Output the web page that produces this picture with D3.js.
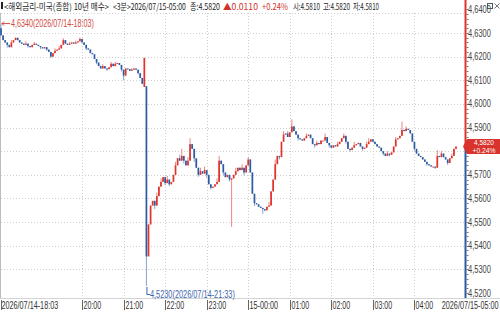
<!DOCTYPE html>
<html>
<head>
<meta charset="utf-8">
<title>해외금리-미국 10년 3분</title>
<script src="https://cdn.jsdelivr.net/npm/d3@7"></script>
<style>
  body { margin: 0; background: #fff; }
  svg { display: block; font-family: "Noto Sans CJK KR", "Noto Sans", sans-serif; }
  .num { font-family: "Liberation Sans", "DejaVu Sans", sans-serif; }
</style>
</head>
<body>
<script>
// 3분봉 종가 : 2026/07/14-18:03 ~ 2026/07/15-05:00 (220개)
var closes = [
  4.629, 4.627, 4.626, 4.625, 4.624, 4.626, 4.627, 4.628, 4.627, 4.626,
  4.6255, 4.625, 4.6255, 4.6245, 4.624, 4.625, 4.6255, 4.625, 4.6245, 4.624,
  4.6235, 4.624, 4.623, 4.622, 4.620, 4.6215, 4.6225, 4.623, 4.6235, 4.625,
  4.627, 4.6255, 4.625, 4.6255, 4.626, 4.6255, 4.626, 4.6265, 4.6275, 4.626,
  4.625, 4.6235, 4.623, 4.6215, 4.621, 4.619, 4.6175, 4.616, 4.615, 4.616,
  4.615, 4.6147, 4.6155, 4.617, 4.616, 4.617, 4.6173, 4.6165, 4.6145, 4.612,
  4.615, 4.6147, 4.614, 4.6145, 4.615, 4.6145, 4.613, 4.611, 4.6085, 4.6195,
  4.5355, 4.549, 4.557, 4.559, 4.557, 4.561, 4.565, 4.567, 4.569, 4.5665,
  4.568, 4.566, 4.567, 4.570, 4.574, 4.577, 4.576, 4.578, 4.576, 4.574,
  4.576, 4.583, 4.581, 4.577, 4.573, 4.570, 4.5715, 4.5705, 4.572, 4.570,
  4.566, 4.5645, 4.565, 4.566, 4.567, 4.576, 4.5745, 4.571, 4.569, 4.570,
  4.568, 4.5685, 4.570, 4.5715, 4.573, 4.572, 4.573, 4.571, 4.574, 4.5765,
  4.571, 4.562, 4.558, 4.5575, 4.5565, 4.556, 4.5555, 4.555, 4.5565, 4.557,
  4.563, 4.568, 4.5745, 4.578, 4.5775, 4.584, 4.587, 4.5875, 4.586, 4.588,
  4.5905, 4.5885, 4.587, 4.5855, 4.585, 4.5845, 4.5855, 4.5865, 4.587, 4.5855,
  4.583, 4.5825, 4.5835, 4.583, 4.5845, 4.5845, 4.586, 4.5835, 4.5825, 4.5815,
  4.5825, 4.582, 4.583, 4.584, 4.5855, 4.5865, 4.584, 4.581, 4.5805, 4.5815,
  4.5825, 4.583, 4.5835, 4.582, 4.581, 4.5815, 4.583, 4.584, 4.585, 4.584,
  4.583, 4.582, 4.5815, 4.580, 4.579, 4.578, 4.579, 4.5785, 4.5795, 4.582,
  4.585, 4.5855, 4.5865, 4.589, 4.5885, 4.5895, 4.589, 4.5875, 4.584, 4.581,
  4.579, 4.578, 4.5775, 4.5765, 4.5755, 4.5745, 4.574, 4.5735, 4.5735, 4.573,
  4.578, 4.5775, 4.579, 4.5775, 4.5765, 4.575, 4.577, 4.578, 4.581, 4.582
];
// 시가가 직전 종가와 다른 봉 [index, open]
var openGaps = [[0, 4.632], [69, 4.6072], [70, 4.6075], [219, 4.581]];
// 꼬리 [index, high] / [index, low]
var highWicks = [[0, 4.634], [5, 4.627], [12, 4.6265], [16, 4.6262], [26, 4.6235], [28, 4.6245],
  [30, 4.6278], [33, 4.6262], [36, 4.6268], [38, 4.6282], [49, 4.6168], [53, 4.6178], [55, 4.6178],
  [63, 4.6152], [75, 4.5625], [77, 4.5685], [80, 4.5695], [84, 4.5755], [86, 4.5785], [87, 4.581],
  [90, 4.5775], [91, 4.5855], [96, 4.573], [98, 4.5735], [104, 4.5685], [105, 4.578], [108, 4.5705],
  [113, 4.573], [116, 4.5745], [119, 4.5775], [129, 4.5585], [132, 4.5765], [136, 4.5885],
  [138, 4.5885], [140, 4.5935], [147, 4.5875], [152, 4.5845], [156, 4.5875], [162, 4.584],
  [165, 4.5875], [170, 4.584], [176, 4.584], [177, 4.5855], [186, 4.580], [190, 4.586],
  [193, 4.5925], [195, 4.5905], [210, 4.5805], [212, 4.580], [217, 4.579]];
var lowWicks = [[3, 4.6238], [13, 4.6238], [19, 4.6232], [22, 4.6225], [24, 4.6195], [41, 4.6228],
  [46, 4.6168], [51, 4.614], [58, 4.6138], [59, 4.610], [66, 4.6125], [70, 4.523], [71, 4.5355],
  [74, 4.5555], [79, 4.5655], [81, 4.5652], [88, 4.5748], [93, 4.5755], [95, 4.5692], [99, 4.5688],
  [101, 4.5638], [107, 4.5698], [110, 4.5672], [111, 4.548], [117, 4.5698], [122, 4.5568],
  [126, 4.5535], [127, 4.5545], [134, 4.5765], [143, 4.5845], [151, 4.5815], [158, 4.5815],
  [166, 4.5832], [168, 4.5798], [174, 4.5802], [184, 4.5782], [187, 4.5778], [199, 4.5802],
  [205, 4.5738], [209, 4.5725], [215, 4.5742]];

var yTicks = [4.52, 4.53, 4.54, 4.55, 4.56, 4.57, 4.58, 4.59, 4.60, 4.61, 4.62, 4.63, 4.64];
var xTickLabels = ["2026/07/14-18:03", "20:00", "21:00", "22:00", "23:00", "15-00:00",
  "01:00", "02:00", "03:00", "04:00", "2026/07/15-05:00"];

var width = 500, height = 314;
var red = "#e0332c", blue = "#2d5ba3";
var fmt = function(v) { return d3.format(".4f")(v).replace(".", ","); };

// 좁은 글꼴 흉내: 글자를 가로로 줄여 폭 w에 맞춘다
function fitText(sel, str, x, y, w, opt) {
  opt = opt || {};
  var t = sel.append("text")
    .attr("class", opt.cls || null)
    .attr("font-size", opt.size || 10)
    .attr("fill", opt.fill || "#333")
    .attr("text-anchor", opt.anchor || "start")
    .text(str);
  var k = w / t.node().getComputedTextLength();
  t.attr("transform", "translate(" + x + "," + y + ") scale(" + k + ",1)");
  return t;
}

var t0 = new Date(2026, 6, 14, 18, 3);
var bars = closes.map(function(c, i) {
  return { t: d3.timeMinute.offset(t0, i * 3), c: c };
});
var gapMap = new Map(openGaps), hiMap = new Map(highWicks), loMap = new Map(lowWicks);
bars.forEach(function(b, i) {
  b.o = gapMap.has(i) ? gapMap.get(i) : (i > 0 ? bars[i - 1].c : b.c);
  b.h = Math.max(b.o, b.c, hiMap.get(i) || 0);
  b.l = Math.min(b.o, b.c, loMap.get(i) || 99);
});

var x = d3.scaleTime()
  .domain([t0, bars[bars.length - 1].t])
  .range([1, 456]);
var y = d3.scaleLinear().domain([4.52, 4.64]).range([293, 9.4]);

var svg = d3.select("body").append("svg")
  .attr("width", width).attr("height", height);

var plotTop = 13, plotBottom = 298, axisX = 465.5;

// 격자
var hourTicks = [t0].concat(d3.timeHour.range(new Date(2026, 6, 14, 20), new Date(2026, 6, 15, 5, 1)));
svg.append("g").selectAll("line").data(yTicks.slice(1, -1)).enter().append("line")
  .attr("x1", 1).attr("x2", axisX - 1)
  .attr("y1", function(d) { return Math.round(y(d)) + 0.5; })
  .attr("y2", function(d) { return Math.round(y(d)) + 0.5; })
  .attr("stroke", "#cfcfcf").attr("stroke-dasharray", "1,2");
svg.append("g").selectAll("line").data(hourTicks.slice(1, -1)).enter().append("line")
  .attr("x1", function(d) { return Math.round(x(d)) + 0.5; })
  .attr("x2", function(d) { return Math.round(x(d)) + 0.5; })
  .attr("y1", plotTop).attr("y2", plotBottom)
  .attr("stroke", "#cfcfcf").attr("stroke-dasharray", "1,2");
svg.append("line").attr("x1", 1).attr("x2", axisX).attr("y1", plotTop + 0.5).attr("y2", plotTop + 0.5)
  .attr("stroke", "#cfcfcf").attr("stroke-dasharray", "1,2");
svg.append("line").attr("x1", 0.5).attr("x2", 0.5).attr("y1", plotTop).attr("y2", plotBottom)
  .attr("stroke", "#bdbdbd");
svg.append("line").attr("x1", 0).attr("x2", width).attr("y1", plotBottom + 0.5).attr("y2", plotBottom + 0.5)
  .attr("stroke", "#d4d4d4");

// 캔들
var candles = svg.append("g").selectAll("g").data(bars).enter().append("g");
candles.append("line")
  .attr("x1", function(d) { return x(d.t); })
  .attr("x2", function(d) { return x(d.t); })
  .attr("y1", function(d) { return y(d.h); })
  .attr("y2", function(d) { return y(d.l); })
  .attr("stroke", function(d) { return d.c >= d.o ? "#e8867f" : "#8aa3cc"; })
  .attr("stroke-width", 1);
candles.append("rect")
  .attr("x", function(d) { return x(d.t) - 0.85; })
  .attr("width", 1.7)
  .attr("y", function(d) { return y(Math.max(d.o, d.c)); })
  .attr("height", function(d) { return Math.max(1, Math.abs(y(d.o) - y(d.c))); })
  .attr("fill", function(d) { return d.c >= d.o ? red : blue; });

// 최고/최저 표시
var hiBar = bars[0], loBar = bars[70];
var hy = y(hiBar.h);
svg.append("path")
  .attr("d", "M" + (x(hiBar.t) + 1) + "," + hy + "H10")
  .attr("stroke", "#d0483e").attr("fill", "none");
svg.append("path")
  .attr("d", "M" + (x(hiBar.t) + 3) + "," + (hy - 2) + "L" + (x(hiBar.t) + 1) + "," + hy +
    "L" + (x(hiBar.t) + 3) + "," + (hy + 2))
  .attr("stroke", "#d0483e").attr("fill", "none");
fitText(svg, fmt(hiBar.h) + "(2026/07/14-18:03)", 11, hy + 3.5, 83, { cls: "num", fill: "#d0483e" });
svg.append("path")
  .attr("d", "M" + (x(loBar.t) + 0.5) + "," + (y(loBar.l) + 1) + "V294.5H150")
  .attr("stroke", "#3a66ad").attr("fill", "none");
fitText(svg, fmt(loBar.l) + "(2026/07/14-21:33)", 150, 297.5, 85, { cls: "num", fill: "#3a66ad" });

// 오른쪽 가격축
var last = bars[bars.length - 1];
svg.append("line").attr("x1", axisX).attr("x2", axisX).attr("y1", 0).attr("y2", y(last.c))
  .attr("stroke", red).attr("stroke-width", 2);
svg.append("line").attr("x1", axisX).attr("x2", axisX).attr("y1", y(last.c)).attr("y2", plotBottom)
  .attr("stroke", blue).attr("stroke-width", 2);
var minor = d3.range(4.52, 4.6401, 0.002);
svg.append("g").selectAll("line").data(minor).enter().append("line")
  .attr("x1", axisX + 1).attr("x2", axisX + 3)
  .attr("y1", function(d) { return Math.round(y(d)) + 0.5; })
  .attr("y2", function(d) { return Math.round(y(d)) + 0.5; })
  .attr("stroke", "#777");
var yLab = svg.append("g");
yTicks.forEach(function(d) {
  if (Math.abs(d - 4.58) < 1e-9) return; // 현재가 표시에 가려짐
  fitText(yLab, fmt(d), 468, y(d) + 3.5, 23, { cls: "num", fill: "#444" });
});

// 현재가 표시
var py = y(last.c);
svg.append("path")
  .attr("d", "M463," + py + "L467," + (py - 7.5) + "H500V" + (py + 7.5) + "H467Z")
  .attr("fill", "#d8332c");
fitText(svg, fmt(last.c), 484, py - 1.2, 20, { cls: "num", fill: "#fff", size: 6.5, anchor: "middle" });
fitText(svg, "+0.24%", 484, py + 6.2, 23, { cls: "num", fill: "#fff", size: 6.5, anchor: "middle" });

// 시간축
var xLab = svg.append("g");
hourTicks.forEach(function(d, i) {
  var tx = Math.round(x(d)) + 0.5, lastTick = i === hourTicks.length - 1;
  if (!lastTick) {
    xLab.append("line").attr("x1", tx).attr("x2", tx).attr("y1", 300).attr("y2", 310)
      .attr("stroke", "#666");
  }
  fitText(xLab, xTickLabels[i], i === 0 ? 1.5 : (lastTick ? 498.5 : tx + 1), 309,
    xTickLabels[i].length * 3.55, { cls: "num", anchor: lastTick ? "end" : "start" });
});

// 제목줄
svg.append("rect").attr("x", 1).attr("y", 2).attr("width", 2).attr("height", 7).attr("fill", "#222");
var header = [
  ["<해외금리-미국(종합) 10년 매수>", 4, 105, "#222"],
  ["<3분>2026/07/15-05:00", 113, 73, "#222"],
  ["종:4.5820", 190, 30, "#222"],
  ["▲0.0110", 223, 35, "#d0322b"],
  ["+0.24%", 262, 26, "#d0322b"],
  ["시:4.5810", 293, 27, "#222"],
  ["고:4.5820", 323, 27, "#222"],
  ["저:4.5810", 353, 26, "#222"]
];
var head = svg.append("g");
header.forEach(function(d) {
  fitText(head, d[0], d[1], 9.5, d[2], { size: 9, fill: d[3] });
});
// 창 버튼
svg.append("rect").attr("x", 487.5).attr("y", 3.5).attr("width", 5).attr("height", 5)
  .attr("fill", "none").attr("stroke", "#555");
svg.append("path").attr("d", "M494.5,3.5l5,5m0,-5l-5,5").attr("stroke", "#777");
</script>
</body>
</html>
